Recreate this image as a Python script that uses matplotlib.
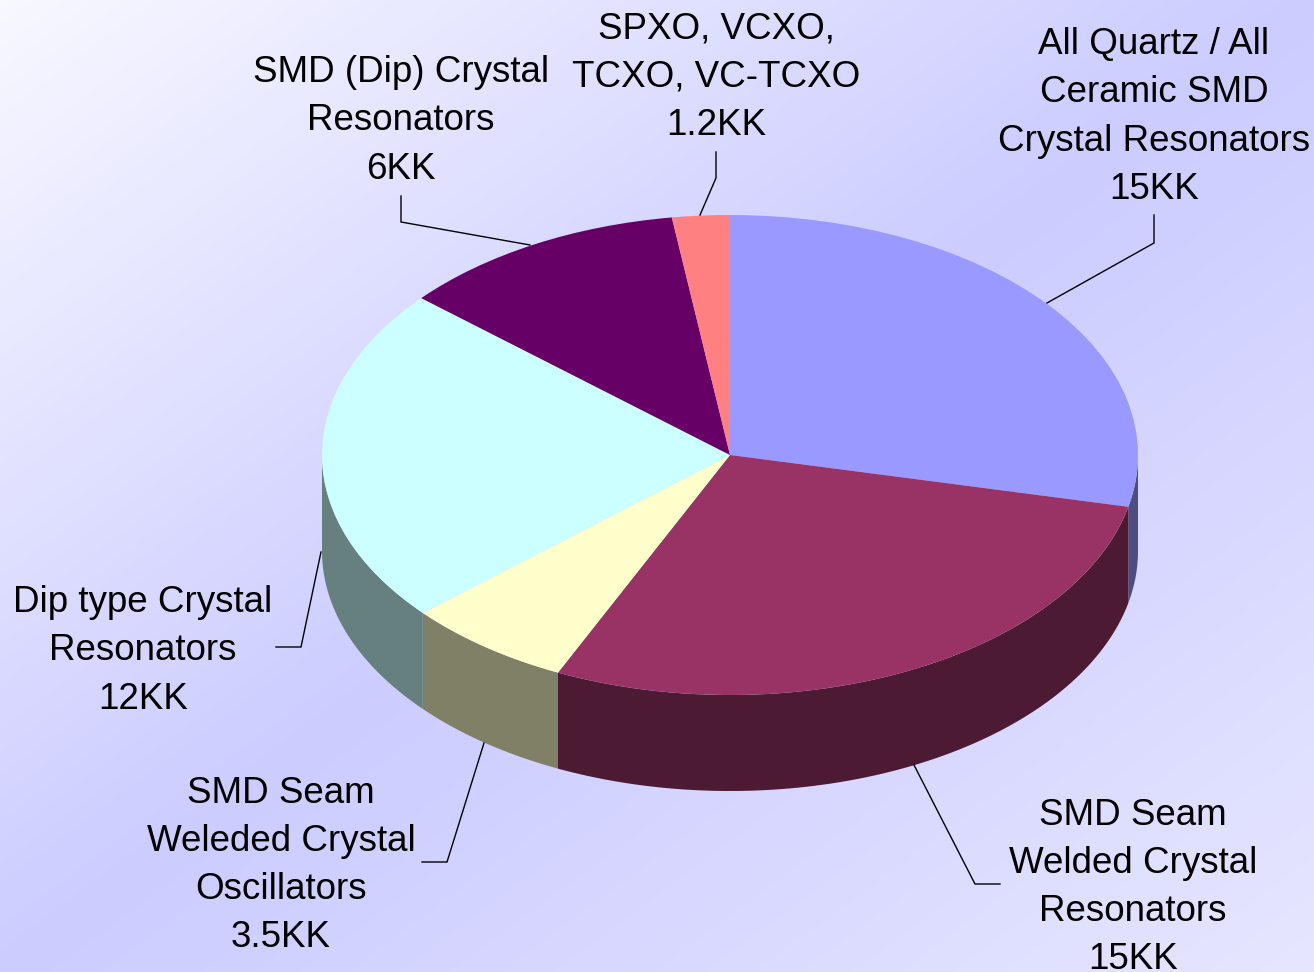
import numpy as np
import matplotlib
matplotlib.use("Agg")
import matplotlib.pyplot as plt
from matplotlib.colors import LinearSegmentedColormap

W, H = 1314, 972
CX, CY, RX, RY, DEPTH = 730, 455, 408, 240, 96

categories = [
    "All Quartz / All\nCeramic SMD\nCrystal Resonators",
    "SMD Seam\nWelded Crystal\nResonators",
    "SMD Seam\nWeleded Crystal\nOscillators",
    "Dip type Crystal\nResonators",
    "SMD (Dip) Crystal\nResonators",
    "SPXO, VCXO,\nTCXO, VC-TCXO",
]
values = [15, 15, 3.5, 12, 6, 1.2]
value_labels = ["15KK", "15KK", "3.5KK", "12KK", "6KK", "1.2KK"]
top_colors = ["#9999ff", "#993366", "#ffffcc", "#ccffff", "#660066", "#ff8080"]
side_colors = ["#4d4d80", "#4d1a33", "#808066", "#668080", "#330033", "#804040"]
label_xy = [(1154, 117), (1133, 887.5), (281, 865.5), (143, 651), (401, 121), (716, 77)]
leaders = [
    [(1047, 303), (1154, 243), (1154, 215)],
    [(914, 765), (975, 884), (1000, 884)],
    [(484, 743), (447, 862), (422, 862)],
    [(321, 552), (301, 647), (276, 647)],
    [(530, 245), (401, 222), (401, 196)],
    [(700, 215), (716, 178), (716, 152)],
]

fig = plt.figure(figsize=(W / 100, H / 100), dpi=100)

# Background gradient
bg = fig.add_axes([0, 0, 1, 1], zorder=0)
bg.axis("off")
yy, xx = np.mgrid[0:1:486j, 0:1:657j]
cmap = LinearSegmentedColormap.from_list(
    "bg", [(0, "#f8f8ff"), (0.5, "#ccccff"), (1, "#e6e6ff")]
)
bg.imshow((xx + yy) / 2, cmap=cmap, vmin=0, vmax=1, aspect="auto",
          interpolation="bilinear")

# Unit-circle data space mapped on to the squashed ellipse
ax = fig.add_axes([0, 0, 1, 1], zorder=1)
wedges, _ = ax.pie(values, colors=top_colors, startangle=90, counterclock=False,
                   radius=1, wedgeprops=dict(linewidth=0, zorder=5))
ax.set_aspect("auto")
ax.set_xlim(-CX / RX, (W - CX) / RX)
ax.set_ylim((CY - H) / RY, CY / RY)
ax.axis("off")

depth = DEPTH / RY
edges = np.concatenate([[0], np.cumsum(values)]) / np.sum(values) * 360
for i in range(len(values)):
    # angle clockwise from top; only the front half (90..270) shows a wall
    a0, a1 = max(edges[i], 90), min(edges[i + 1], 270)
    if a1 <= a0:
        continue
    t = np.radians(np.linspace(a0, a1, 120))
    x, y = np.sin(t), np.cos(t)
    ax.fill(np.r_[x, x[::-1]], np.r_[y, y[::-1] - depth],
            color=side_colors[i], lw=0, zorder=3)


def to_data(p):
    return (p[0] - CX) / RX, (CY - p[1]) / RY


for pts in leaders:
    d = np.array([to_data(p) for p in pts])
    ax.plot(d[:, 0], d[:, 1], color="black", lw=1.0, zorder=6,
            solid_joinstyle="miter")

for cat, val, xy in zip(categories, value_labels, label_xy):
    px, py = to_data(xy)
    ax.text(px, py, f"{cat}\n{val}", ha="center", va="center", ma="center",
            fontsize=26.5, family="Liberation Sans", color="black",
            linespacing=1.49, zorder=7, clip_on=False)

fig.savefig("out.png", dpi=100)
